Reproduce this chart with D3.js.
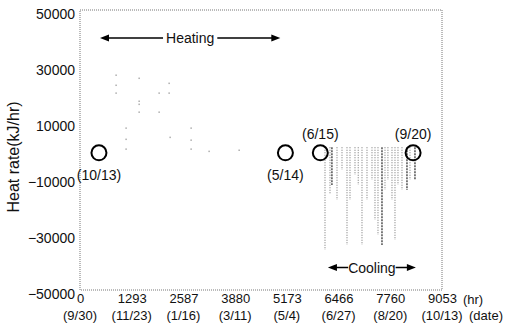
<!DOCTYPE html>
<html>
<head>
<meta charset="utf-8">
<script src="https://cdn.jsdelivr.net/npm/d3@7"></script>
<style>
  body { margin: 0; background: #fff; }
  text { font-family: "Liberation Sans", Arial, sans-serif; }
</style>
</head>
<body>
<svg id="drawing_region"></svg>
<script>
// tick labels
const xTicks = [0, 1293, 2587, 3880, 5173, 6466, 7760, 9053];
const xDates = ["(9/30)", "(11/23)", "(1/16)", "(3/11)", "(5/4)", "(6/27)", "(8/20)", "(10/13)"];
const yTicks = [50000, 30000, 10000, -10000, -30000, -50000];

// heating season: scattered hourly loads (hr, kJ/hr)
const heatHours  = [900, 900, 900, 1476, 1476, 1476, 1476, 1976, 1976, 2226, 2226, 1150, 1150, 1150, 2251, 2776, 2776, 2776, 3226, 3977];
const heatValues = [26800, 23200, 20400, 25700, 17500, 16400, 13600, 20400, 13600, 23900, 20400, 7900, 3900, 400, 4600, 7900, 3600, 400, -400, 0];

// cooling season: vertical dotted columns, from top value down to min value
const coolHours = [6127, 6252, 6300, 6427, 6552, 6677, 6752, 6877, 6960, 7052, 7177, 7302, 7377, 7452, 7552, 7627, 7700, 7802, 7877, 7952, 8052, 8177, 8252, 8377];
const coolMin   = [-35700, -16000, -12500, -17900, -7100, -33900, -17900, -8900, -12500, -33900, -17900, -10700, -25000, -30400, -33900, -14300, -10700, -17900, -32100, -12500, -14300, -14300, -10700, -10700];
const coolDark  = [0, 0, 1, 0, 0, 0, 0, 0, 0, 0, 0, 0, 0, 0, 1, 0, 0, 0, 0, 0, 0, 1, 0, 1];

// marked zero crossings
const markHours  = [474, 5137, 6010, 8330];
const markLabels = ["(10/13)", "(5/14)", "(6/15)", "(9/20)"];
const markAbove  = [false, false, true, true];

const width = 505, height = 323;
const margin = {top: 10, right: 63, bottom: 33, left: 80};
const innerW = width - margin.left - margin.right;
const innerH = height - margin.top - margin.bottom;

const svg = d3.select('#drawing_region')
    .attr('width', width)
    .attr('height', height);

const chart = svg.append('g')
    .attr('transform', `translate(${margin.left}, ${margin.top})`);

const xscale = d3.scaleLinear().domain([0, 9053]).range([0, innerW]);
const yscale = d3.scaleLinear().domain([-50000, 50000]).range([innerH, 0]);

// dotted frame
chart.append('rect')
    .attr('x', 0).attr('y', 0)
    .attr('width', innerW).attr('height', innerH)
    .attr('fill', 'none')
    .attr('stroke', '#777')
    .attr('stroke-width', 1)
    .attr('stroke-dasharray', '1,1');

// y axis
const yaxis = d3.axisLeft(yscale).tickValues(yTicks).tickSize(0).tickPadding(5)
    .tickFormat(d3.format('d'));
const yg = chart.append('g').call(yaxis);
yg.select('.domain').remove();
yg.selectAll('text')
    .attr('font-size', 14)
    .attr('dy', '0.6em')
    .attr('fill', '#111');

// x axis
const xaxis = d3.axisBottom(xscale).tickValues(xTicks).tickSize(0).tickPadding(4)
    .tickFormat(d3.format('d'));
const xg = chart.append('g')
    .attr('transform', `translate(0, ${innerH})`)
    .call(xaxis);
xg.select('.domain').remove();
xg.selectAll('text')
    .attr('font-size', 13)
    .attr('fill', '#111');

xg.selectAll('.date')
    .data(xTicks)
    .enter()
    .append('text')
    .attr('class', 'date')
    .attr('x', d => xscale(d))
    .attr('y', 30)
    .attr('text-anchor', 'middle')
    .attr('font-size', 13)
    .attr('fill', '#111')
    .text((d, i) => xDates[i]);

svg.append('text').attr('x', 473).attr('y', 304).attr('text-anchor', 'middle')
    .attr('font-size', 13).attr('fill', '#111').text('(hr)');
svg.append('text').attr('x', 486).attr('y', 320).attr('text-anchor', 'middle')
    .attr('font-size', 13).attr('fill', '#111').text('(date)');

// y label
svg.append('text')
    .attr('transform', 'translate(19, 157) rotate(-90)')
    .attr('text-anchor', 'middle')
    .attr('font-size', 16)
    .attr('fill', '#111')
    .text('Heat rate(kJ/hr)');

// heating dots
chart.selectAll('.heat')
    .data(heatHours)
    .enter()
    .append('rect')
    .attr('class', 'heat')
    .attr('x', d => xscale(d) - 0.5)
    .attr('y', (d, i) => yscale(heatValues[i]) - 0.5)
    .attr('width', 1.2)
    .attr('height', 1.5)
    .attr('fill', '#999');

// cooling columns
chart.selectAll('.cool')
    .data(coolHours)
    .enter()
    .append('line')
    .attr('class', 'cool')
    .attr('x1', d => xscale(d))
    .attr('x2', d => xscale(d))
    .attr('y1', yscale(1000))
    .attr('y2', (d, i) => yscale(coolMin[i]))
    .attr('stroke', (d, i) => coolDark[i] ? '#444' : '#999')
    .attr('stroke-width', 1.4)
    .attr('stroke-dasharray', (d, i) => coolDark[i] ? '2,1' : '1,1.5');

// markers
chart.selectAll('.mark')
    .data(markHours)
    .enter()
    .append('circle')
    .attr('class', 'mark')
    .attr('cx', d => xscale(d))
    .attr('cy', yscale(-1000))
    .attr('r', 7.5)
    .attr('fill', 'none')
    .attr('stroke', '#000')
    .attr('stroke-width', 2);

chart.selectAll('.mark-label')
    .data(markHours)
    .enter()
    .append('text')
    .attr('class', 'mark-label')
    .attr('x', d => xscale(d))
    .attr('y', (d, i) => markAbove[i] ? yscale(-1000) - 14 : yscale(-1000) + 27)
    .attr('text-anchor', 'middle')
    .attr('font-size', 14)
    .attr('fill', '#111')
    .text((d, i) => markLabels[i]);

// season arrows
function seasonArrow(h0, h1, v, label, fs, pad) {
    const x0 = xscale(h0), x1 = xscale(h1), y = yscale(v);
    chart.append('line')
        .attr('x1', x0 + 6).attr('x2', x1 - 6)
        .attr('y1', y).attr('y2', y)
        .attr('stroke', '#000').attr('stroke-width', 1.5);
    chart.append('path')
        .attr('d', `M${x0},${y} L${x0 + 9},${y - 3.5} L${x0 + 9},${y + 3.5} Z`)
        .attr('fill', '#000');
    chart.append('path')
        .attr('d', `M${x1},${y} L${x1 - 9},${y - 3.5} L${x1 - 9},${y + 3.5} Z`)
        .attr('fill', '#000');
    const t = chart.append('text')
        .attr('x', (x0 + x1) / 2)
        .attr('y', y + 5)
        .attr('text-anchor', 'middle')
        .attr('font-size', fs)
        .attr('fill', '#111')
        .text(label);
    const b = t.node().getBBox();
    chart.insert('rect', () => t.node())
        .attr('x', b.x - pad).attr('y', b.y)
        .attr('width', b.width + 2 * pad).attr('height', b.height)
        .attr('fill', '#fff');
}

seasonArrow(500, 5010, 40000, 'Heating', 14, 3);
seasonArrow(6200, 8400, -42000, 'Cooling', 14, 0);
</script>
</body>
</html>
